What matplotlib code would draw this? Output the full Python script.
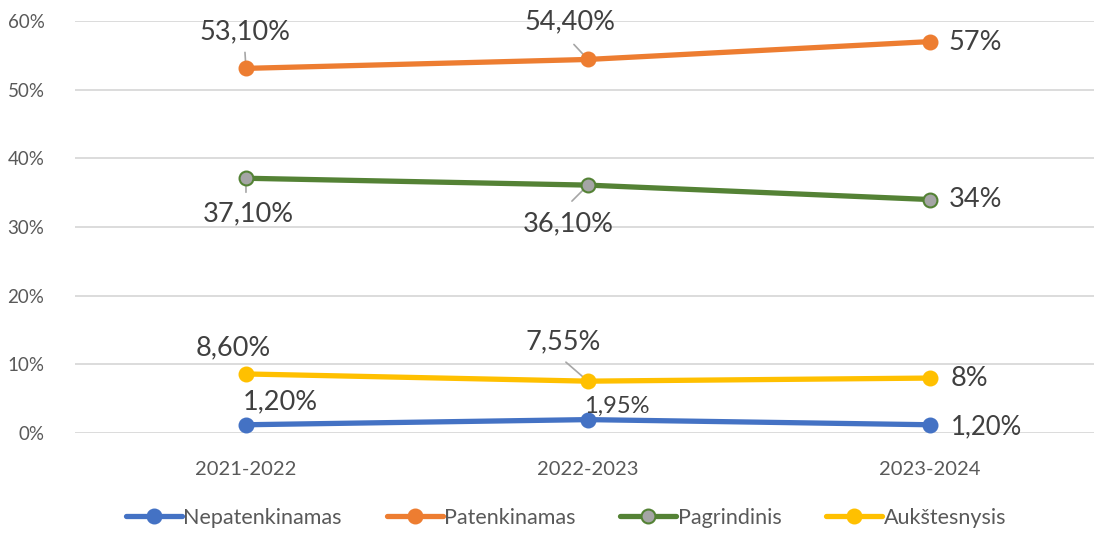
import matplotlib
matplotlib.use("Agg")
import matplotlib.pyplot as plt
from matplotlib.ticker import FuncFormatter

plt.rcParams['font.family'] = ['Lato', 'DejaVu Sans']

categories = ["2021-2022", "2022-2023", "2023-2024"]
nepatenkinamas = [1.20, 1.95, 1.20]
patenkinamas = [53.10, 54.40, 57.0]
pagrindinis = [37.10, 36.10, 34.0]
aukstesnysis = [8.60, 7.55, 8.0]

series_names = ["Nepatenkinamas", "Patenkinamas", "Pagrindinis", "Aukštesnysis"]
labels_nep = ["1,20%", "1,95%", "1,20%"]
labels_pat = ["53,10%", "54,40%", "57%"]
labels_pag = ["37,10%", "36,10%", "34%"]
labels_auk = ["8,60%", "7,55%", "8%"]

fig = plt.figure(figsize=(10.94, 5.52), dpi=100)
ax = fig.add_axes([75/1094, 1-433/552, (1094-75)/1094, (433-21)/552])

x = list(range(len(categories)))
colors = ["#4472C4", "#ED7D31", "#548235", "#FFC000"]
data = [nepatenkinamas, patenkinamas, pagrindinis, aukstesnysis]
faces = ["#4472C4", "#ED7D31", "#A5A5A5", "#FFC000"]
handles = []
for vals, c, fc, name in zip(data, colors, faces, series_names):
    h, = ax.plot(x, vals, color=c, lw=3.8, marker='o', markersize=10,
                 markerfacecolor=fc, markeredgecolor=c, markeredgewidth=1.5,
                 label=name, solid_capstyle='round', zorder=3)
    handles.append(h)

ax.set_xlim(-0.5, 2.48)
ax.set_ylim(0, 60)
ax.set_yticks(range(0, 61, 10))
ax.yaxis.set_major_formatter(FuncFormatter(lambda v, p: f"{int(v)}%"))
ax.set_xticks(x)
ax.set_xticklabels(categories)
ax.tick_params(axis='both', length=0, colors="#595959")
ax.tick_params(axis='y', pad=22, labelsize=13.5)
ax.tick_params(axis='x', pad=20, labelsize=14.5)
ax.grid(axis='y', color="#D9D9D9", lw=1.3)
ax.set_axisbelow(True)
for s in ax.spines.values():
    s.set_visible(False)

lab_color = "#404040"
fs = 19.5

def lab(xi, yv, text, dx, dy, size=fs, ha='center', leader=None):
    ax.annotate(text, xy=(xi, yv), xytext=(dx, dy), textcoords='offset pixels',
                ha=ha, va='center', fontsize=size, color=lab_color, zorder=5)
    if leader is not None:
        ax.annotate("", xy=(xi, yv), xytext=leader, textcoords='offset pixels',
                    arrowprops=dict(arrowstyle='-', color="#A6A6A6", lw=1.2,
                                    shrinkA=0, shrinkB=0), zorder=2)

# Patenkinamas
lab(0, patenkinamas[0], labels_pat[0], -1, 37, leader=(-1, 16))
lab(1, patenkinamas[1], labels_pat[1], -18, 38, leader=(-14, 15))
lab(2, patenkinamas[2], labels_pat[2], 19, -1, ha='left')
# Pagrindinis
lab(0, pagrindinis[0], labels_pag[0], 2, -36, leader=(0, -14))
lab(1, pagrindinis[1], labels_pag[1], -20, -39, leader=(-16, -16))
lab(2, pagrindinis[2], labels_pag[2], 19, 0, ha='left')
# Aukštesnysis
lab(0, aukstesnysis[0], labels_auk[0], -13, 26)
lab(1, aukstesnysis[1], labels_auk[1], -25, 39, leader=(-22, 19))
lab(2, aukstesnysis[2], labels_auk[2], 21, 0, ha='left')
# Nepatenkinamas
lab(0, nepatenkinamas[0], labels_nep[0], 34, 23)
lab(1, nepatenkinamas[1], labels_nep[1], 29, 13, size=17)
lab(2, nepatenkinamas[2], labels_nep[2], 21, -2, ha='left', size=18.5)

leg = fig.legend(handles=handles, loc='center', bbox_to_anchor=(566/1094, 1-518/552),
                 ncol=4, frameon=False, fontsize=15.5, handlelength=2.6,
                 handletextpad=0.05, columnspacing=2.1, labelcolor="#595959")

fig.savefig("out.png", dpi=100)
